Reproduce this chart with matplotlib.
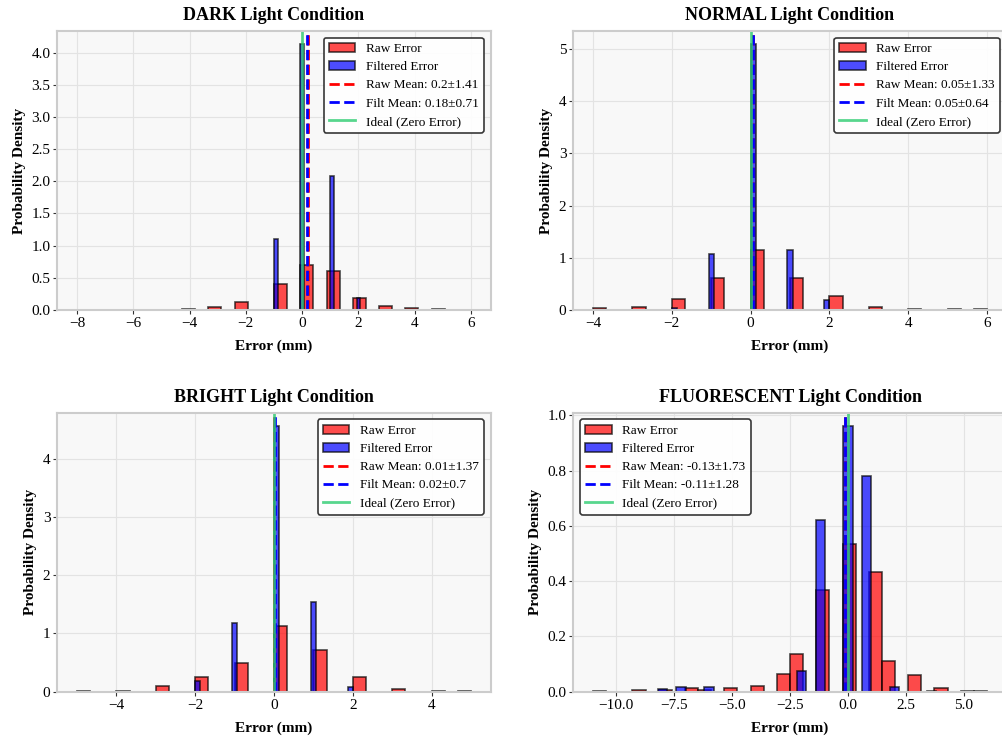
import numpy as np
import matplotlib
matplotlib.use('Agg')
import matplotlib.pyplot as plt
from matplotlib.ticker import MultipleLocator, FormatStrFormatter

plt.rcParams['font.family'] = ['Liberation Serif', 'DejaVu Serif']

conditions = ['DARK', 'NORMAL', 'BRIGHT', 'FLUORESCENT']

# error values (mm) and their histogram densities
dark_raw_vals = [-8, -5, -4, -3, -2, -1, 0, 1, 2, 3, 4, 5, 6]
dark_raw_dens = [0.002, 0.006, 0.008, 0.05, 0.12, 0.41, 0.70, 0.60, 0.18, 0.06, 0.035, 0.008, 0.002]
dark_filt_vals = [-1, 0, 1, 2, 3]
dark_filt_dens = [1.11, 4.13, 2.09, 0.18, 0.005]

normal_raw_vals = [-4, -3, -2, -1, 0, 1, 2, 3, 4, 5, 6]
normal_raw_dens = [0.03, 0.06, 0.22, 0.61, 1.14, 0.62, 0.26, 0.06, 0.02, 0.01, 0.02]
normal_filt_vals = [-2, -1, 0, 1, 2]
normal_filt_dens = [0.04, 1.065, 5.09, 1.14, 0.19]

bright_raw_vals = [-5, -4, -3, -2, -1, 0, 1, 2, 3, 4, 5]
bright_raw_dens = [0.006, 0.01, 0.10, 0.26, 0.49, 1.13, 0.72, 0.25, 0.05, 0.02, 0.005]
bright_filt_vals = [-2, -1, 0, 1, 2]
bright_filt_dens = [0.19, 1.18, 4.56, 1.545, 0.074]

fluor_raw_vals = [-11, -9, -8, -7, -6, -5, -4, -3, -2, -1, 0, 1, 2, 3, 4, 5, 6]
fluor_raw_dens = [0.002, 0.005, 0.005, 0.015, 0.006, 0.012, 0.022, 0.065, 0.137, 0.369,
                  0.535, 0.432, 0.11, 0.061, 0.015, 0.003, 0.002]
fluor_filt_vals = [-8, -7, -6, -2, -1, 0, 1, 2, 3.8]
fluor_filt_dens = [0.01, 0.018, 0.016, 0.076, 0.62, 0.962, 0.78, 0.018, 0.001]

raw_ranges = [(-8, 6), (-4, 6), (-5, 5), (-11, 6)]
filt_ranges = [(-1, 3), (-2, 2), (-2, 2), (-8.2, 3.8)]

raw_means = [0.2, 0.05, 0.01, -0.13]
raw_stds = [1.41, 1.33, 1.37, 1.73]
filt_means = [0.18, 0.05, 0.02, -0.11]
filt_stds = [0.71, 0.64, 0.7, 1.28]

raw_vals = [dark_raw_vals, normal_raw_vals, bright_raw_vals, fluor_raw_vals]
raw_dens = [dark_raw_dens, normal_raw_dens, bright_raw_dens, fluor_raw_dens]
filt_vals = [dark_filt_vals, normal_filt_vals, bright_filt_vals, fluor_filt_vals]
filt_dens = [dark_filt_dens, normal_filt_dens, bright_filt_dens, fluor_filt_dens]

x_steps = [2, 2, 2, 2.5]
y_steps = [0.5, 1, 1, 0.2]
y_formats = ['%.1f', '%d', '%d', '%.1f']
legend_locs = ['upper right', 'upper right', 'upper right', 'upper left']
n_bins = 30

fig = plt.figure(figsize=(10.02, 7.36), dpi=100)
fig.patch.set_facecolor('white')
positions = [[0.0572, 0.5788, 0.4325, 0.3791],
             [0.5722, 0.5788, 0.4325, 0.3791],
             [0.0572, 0.0602, 0.4325, 0.3791],
             [0.5722, 0.0602, 0.4325, 0.3791]]

for i, cond in enumerate(conditions):
    ax = fig.add_axes(positions[i])
    ax.set_facecolor('#f8f8f8')

    ax.hist(raw_vals[i], bins=n_bins, range=raw_ranges[i], weights=raw_dens[i],
            color='red', alpha=0.7, edgecolor='black', linewidth=1.2, label='Raw Error')
    ax.hist(filt_vals[i], bins=n_bins, range=filt_ranges[i], weights=filt_dens[i],
            color='blue', alpha=0.7, edgecolor='black', linewidth=1.2, label='Filtered Error')

    ax.axvline(raw_means[i], color='red', linestyle='--', linewidth=2,
               label='Raw Mean: %s±%s' % (raw_means[i], raw_stds[i]))
    ax.axvline(filt_means[i], color='blue', linestyle='--', linewidth=2,
               label='Filt Mean: %s±%s' % (filt_means[i], filt_stds[i]))
    ax.axvline(0, color='#2ecc71', linestyle='-', linewidth=2, alpha=0.8,
               label='Ideal (Zero Error)')

    ax.xaxis.set_major_locator(MultipleLocator(x_steps[i]))
    ax.yaxis.set_major_locator(MultipleLocator(y_steps[i]))
    ax.yaxis.set_major_formatter(FormatStrFormatter(y_formats[i]))

    ax.set_title('%s Light Condition' % cond, fontsize=13, fontweight='bold', pad=8)
    ax.set_xlabel('Error (mm)', fontsize=11, fontweight='bold', labelpad=7)
    ax.set_ylabel('Probability Density', fontsize=11, fontweight='bold', labelpad=4)
    ax.tick_params(labelsize=11, length=3, width=0.8, pad=2, color='#333333')
    ax.grid(True, color='#e3e3e3', linewidth=0.8)
    ax.set_axisbelow(True)
    for sp in ax.spines.values():
        sp.set_color('#cccccc')
        sp.set_linewidth(1.5)

    leg = ax.legend(loc=legend_locs[i], fontsize=9.5, frameon=True, fancybox=True,
                    framealpha=0.9, edgecolor='#222222', labelspacing=0.45)
    leg.get_frame().set_linewidth(1.2)

fig.savefig('out.png', dpi=100, facecolor='white')
